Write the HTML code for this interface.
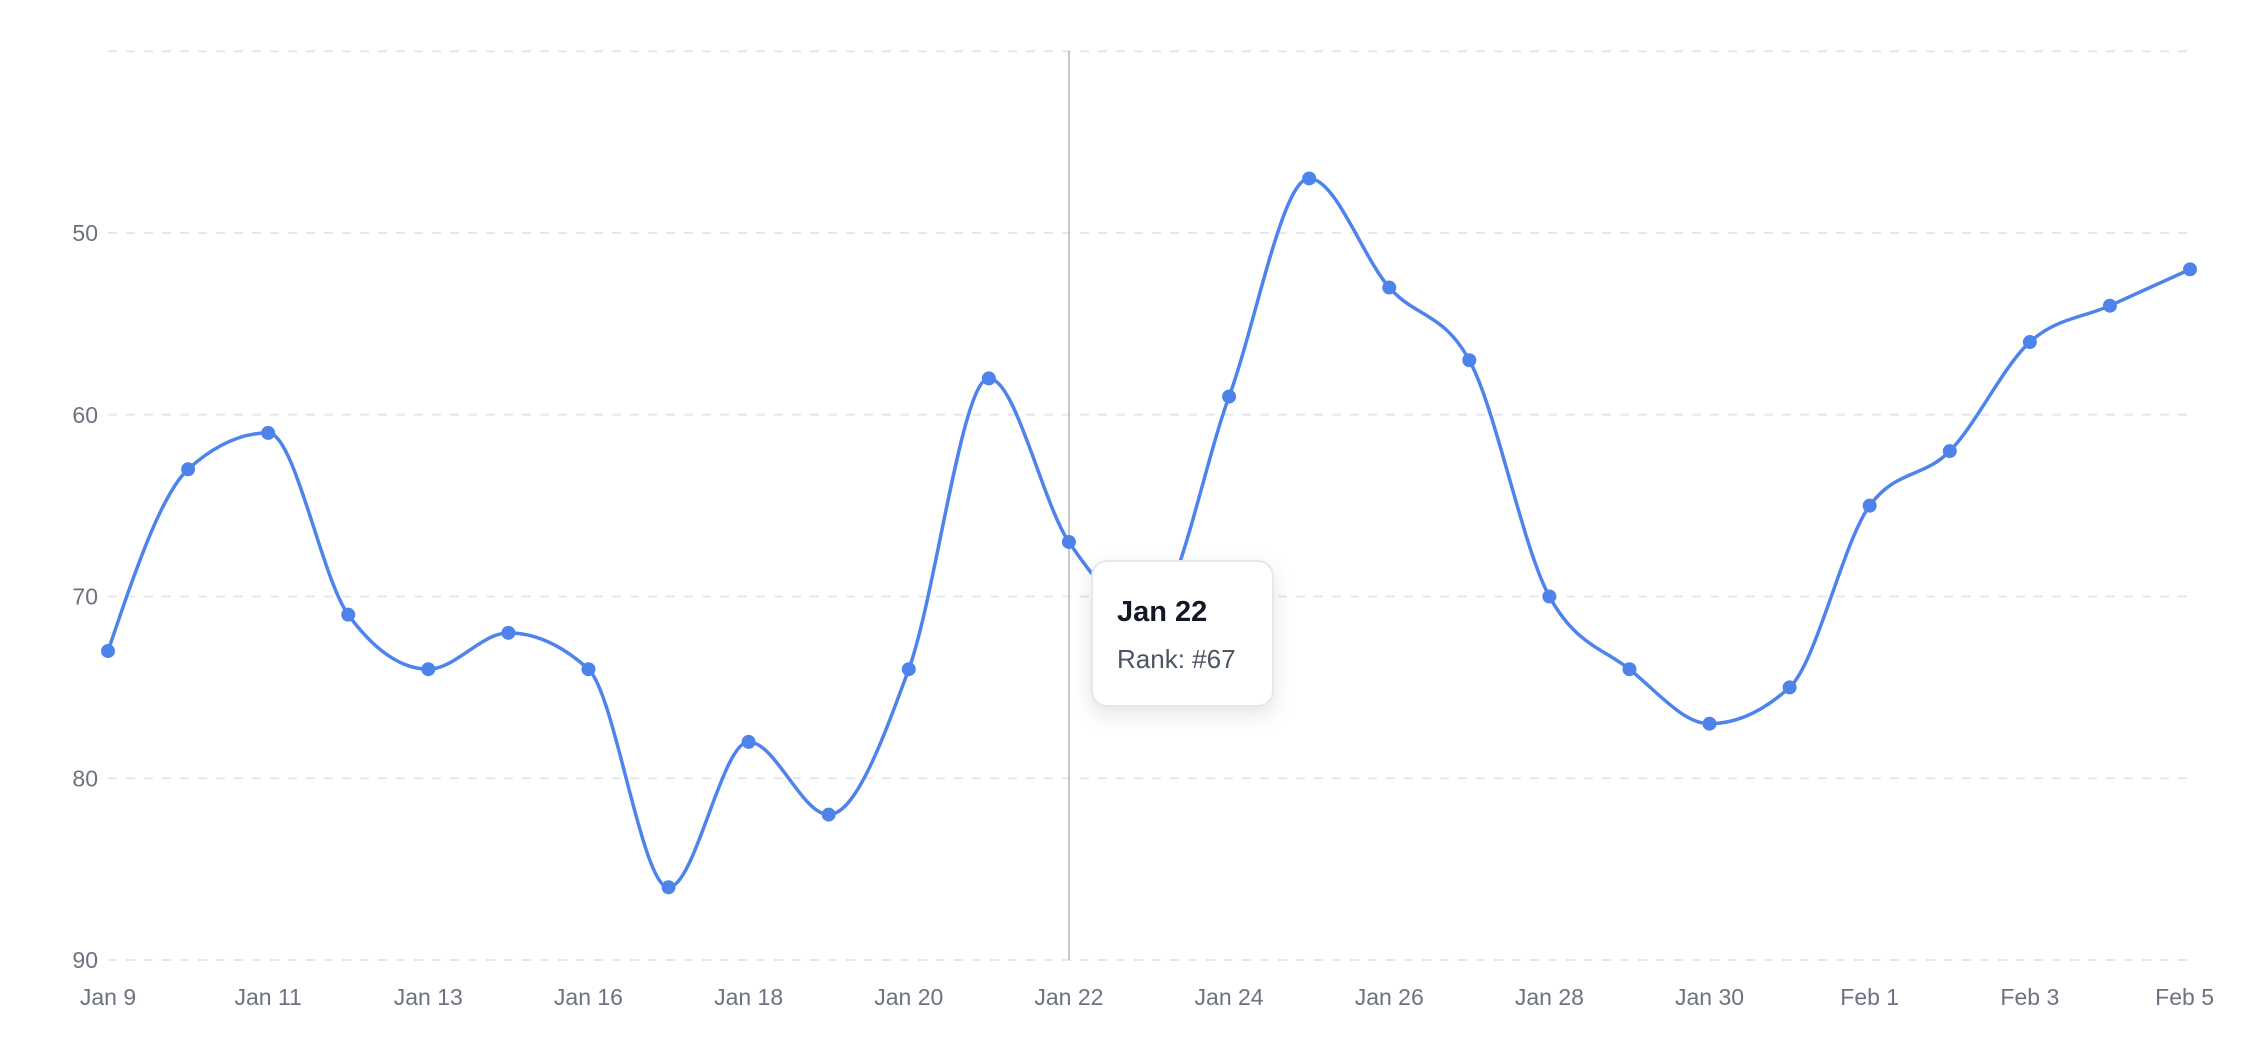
<!DOCTYPE html>
<html><head><meta charset="utf-8"><style>
html,body{margin:0;padding:0;background:#fff;}
svg{display:block;font-family:"Liberation Sans",sans-serif;}
</style></head><body>
<svg id="s" width="2254" height="1056" xmlns="http://www.w3.org/2000/svg">
<defs><filter id="sh" x="-30%" y="-30%" width="160%" height="170%"><feDropShadow dx="0" dy="8" stdDeviation="10" flood-color="#000" flood-opacity="0.10"/></filter></defs>
<g id="grid" stroke="#e5e7eb" stroke-width="2" stroke-dasharray="9 9"></g>
<g id="ylab" fill="#6b7280" font-size="23" text-anchor="end"></g>
<g id="xlab" fill="#6b7280" font-size="23" text-anchor="middle"></g>
<line x1="1069" y1="51" x2="1069" y2="960" stroke="#c8c8c8" stroke-width="2"/>
<path id="ln" fill="none" stroke="#4f83ec" stroke-width="3.5"/>
<g id="dots" fill="#4f83ec"></g>
<rect x="1092" y="561" width="181" height="145" rx="15" fill="#fff" stroke="#e5e7eb" stroke-width="2" filter="url(#sh)"/>
<text x="1117" y="621" font-size="29" font-weight="bold" fill="#111827">Jan 22</text>
<text x="1117" y="668" font-size="26" fill="#4b5563">Rank: #67</text>
</svg>
<script>
var NS="http://www.w3.org/2000/svg";
function Y(v){return 51.25+(v-40)*18.175;}
var x0=108,x1=2190,n=27,st=(x1-x0)/(n-1);
function X(i){return x0+i*st;}
var d=[73,63,61,71,74,72,74,86,78,82,74,58,67,71,59,47,53,57,70,74,77,75,65,62,56,54,52];
function el(t,a,p,tx){var e=document.createElementNS(NS,t);for(var k in a)e.setAttribute(k,a[k]);if(tx)e.textContent=tx;document.getElementById(p).appendChild(e);}
[40,50,60,70,80,90].forEach(function(v){el("line",{x1:x0,x2:x1,y1:Y(v),y2:Y(v)},"grid");if(v>40)el("text",{x:98,y:Y(v)+8},"ylab",v);});
var labs=["Jan 9","Jan 11","Jan 13","Jan 16","Jan 18","Jan 20","Jan 22","Jan 24","Jan 26","Jan 28","Jan 30","Feb 1","Feb 3","Feb 5"];
labs.forEach(function(t,k){var i=k*2;var a={x:X(i),y:1005};if(i==26){a.x=2214;a["text-anchor"]="end";}el("text",a,"xlab",t);});
var xs=d.map(function(v,i){return X(i);}),ys=d.map(Y);
var m=[],s=[];for(var i=0;i<n-1;i++)s.push((ys[i+1]-ys[i])/(xs[i+1]-xs[i]));
for(i=0;i<n;i++){if(i==0||i==n-1){m.push(null);continue;}var a=s[i-1],b=s[i];if(a*b<=0)m.push(0);else{var p=(a+b)/2;m.push((Math.sign(a)+Math.sign(b))*Math.min(Math.abs(a),Math.abs(b),0.5*Math.abs(p)));}}
m[0]=(3*s[0]-m[1])/2;m[n-1]=(3*s[n-2]-m[n-2])/2;
var P="M"+xs[0]+","+ys[0];
for(i=0;i<n-1;i++){var h=(xs[i+1]-xs[i])/3;P+="C"+(xs[i]+h)+","+(ys[i]+h*m[i])+" "+(xs[i+1]-h)+","+(ys[i+1]-h*m[i+1])+" "+xs[i+1]+","+ys[i+1];}
document.getElementById("ln").setAttribute("d",P);
for(i=0;i<n;i++)el("circle",{cx:xs[i],cy:ys[i],r:7},"dots");
</script>
</body></html>
